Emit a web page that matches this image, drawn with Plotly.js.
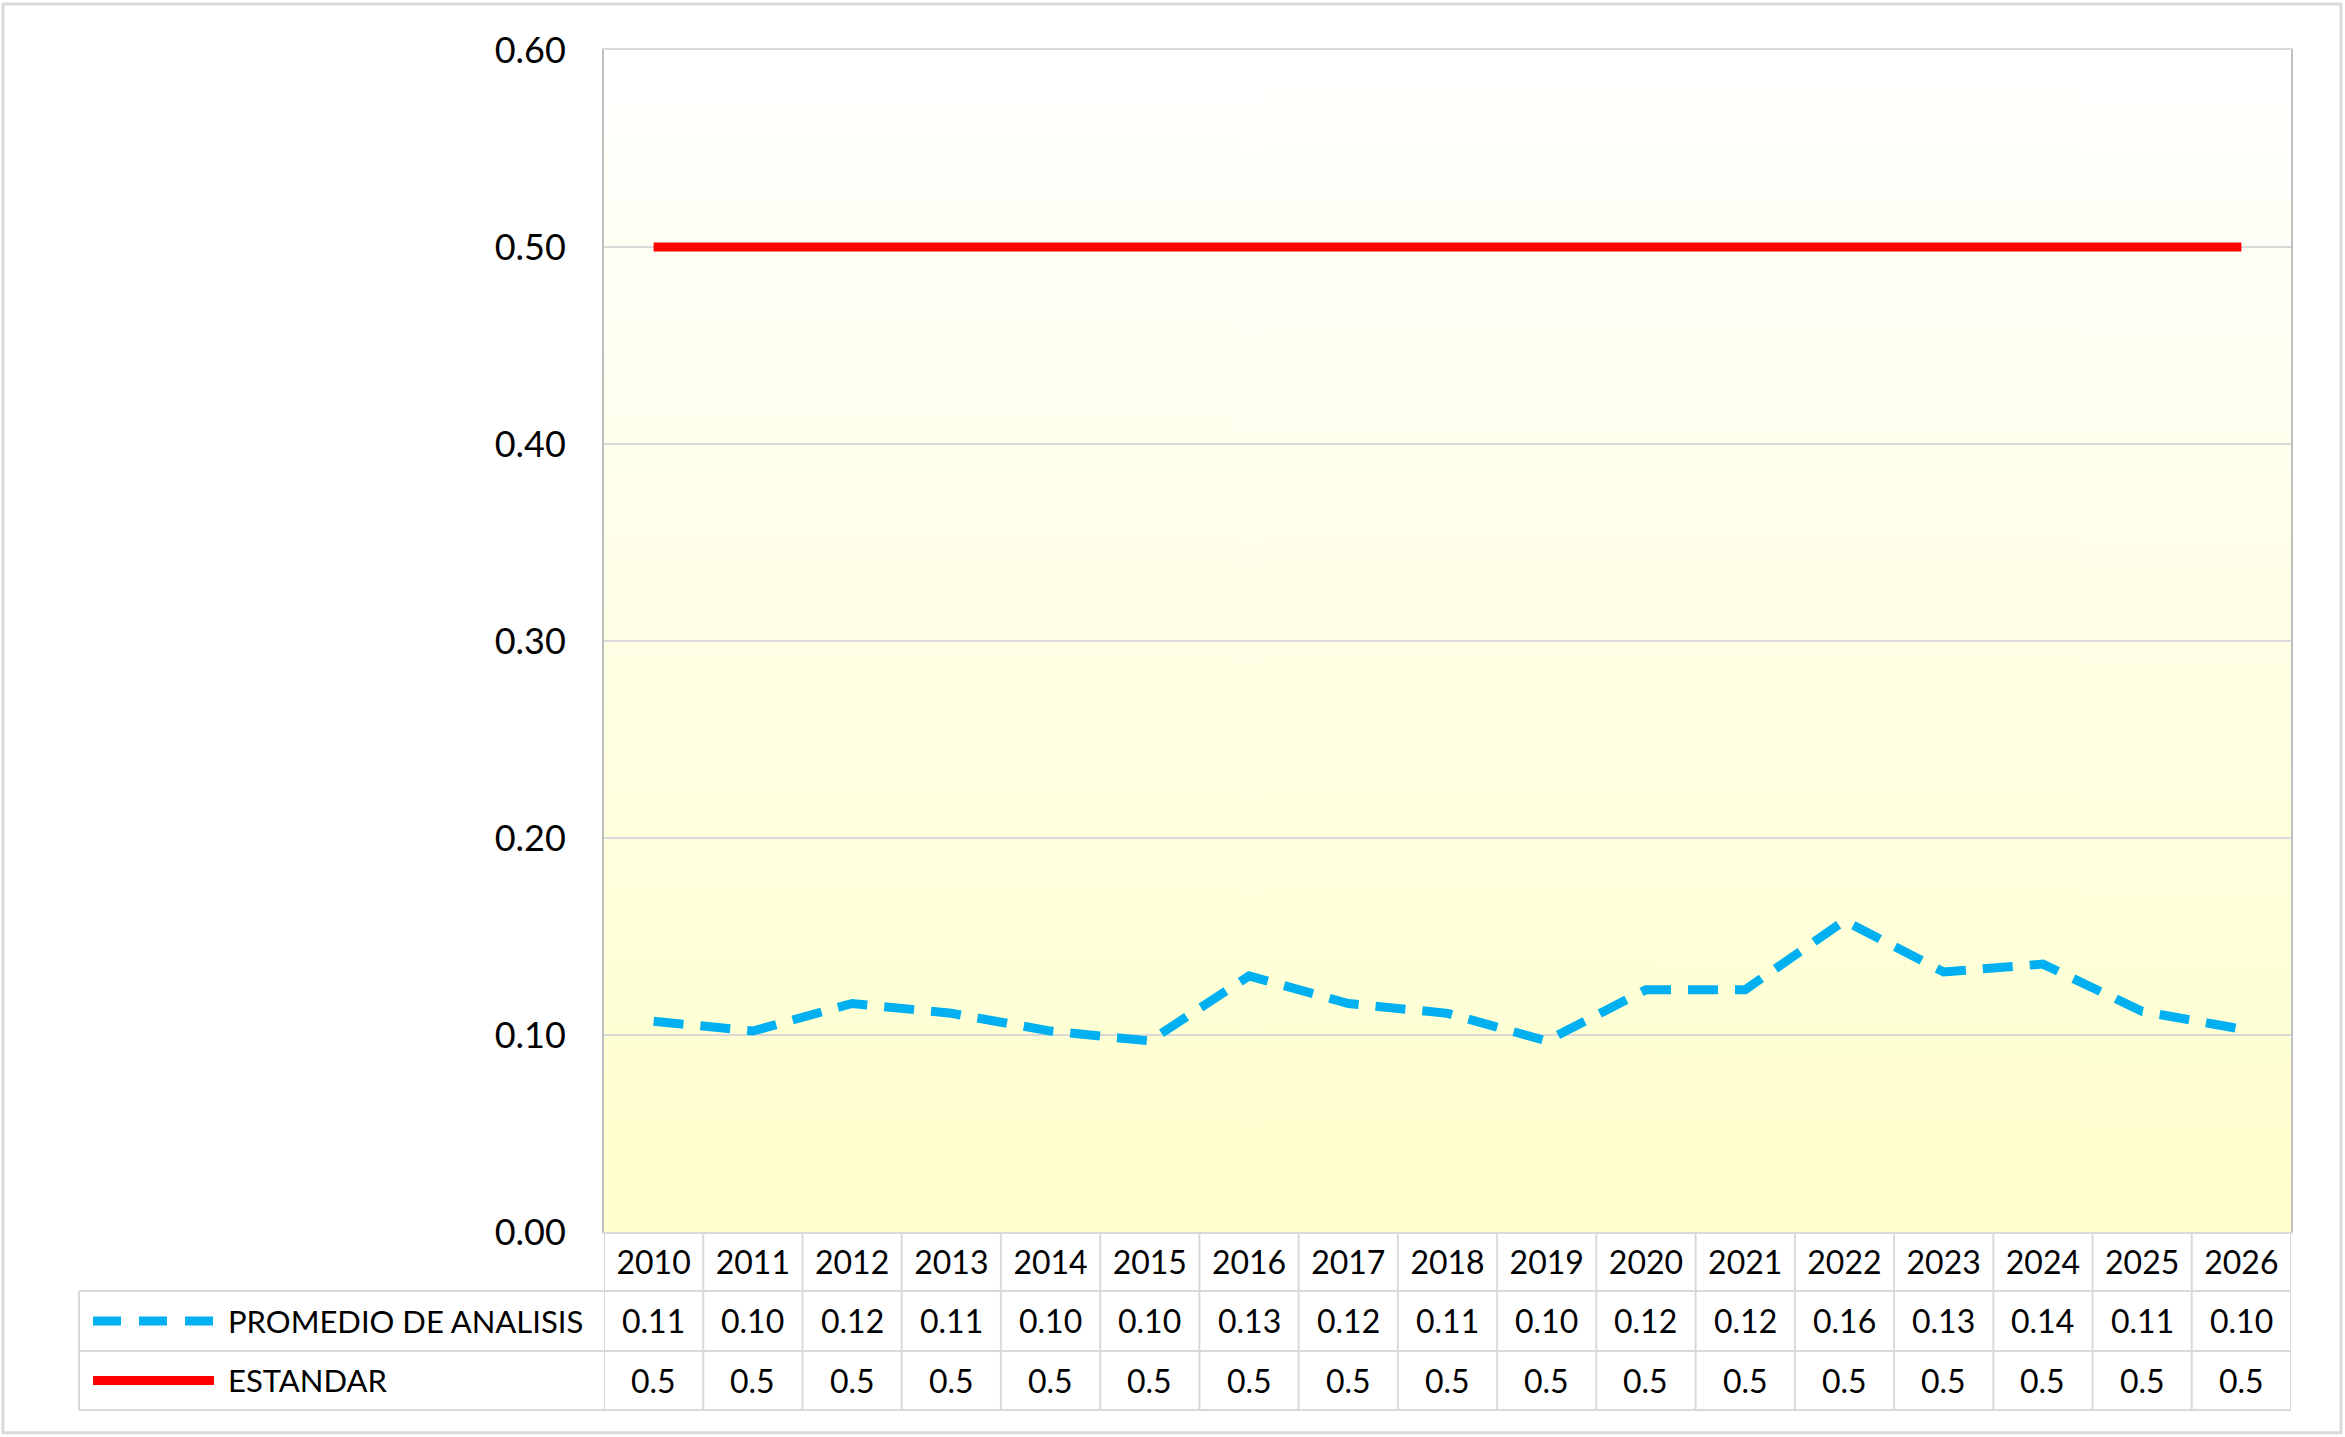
<!DOCTYPE html>
<html>
<head>
<meta charset="utf-8">
<script src="https://cdn.plot.ly/plotly-3.0.1.min.js"></script>
<style>
  body { margin: 0; background: #fff; }
  #graphDiv { width: 2345px; height: 1437px; }
</style>
</head>
<body>
<div id="graphDiv"></div>
<script>
// data
var years = ['2010','2011','2012','2013','2014','2015','2016','2017','2018',
             '2019','2020','2021','2022','2023','2024','2025','2026'];
var promedio = [0.107,0.102,0.116,0.111,0.102,0.097,0.130,0.116,0.111,
                0.097,0.123,0.123,0.158,0.132,0.136,0.112,0.103];
var estandar = [0.5,0.5,0.5,0.5,0.5,0.5,0.5,0.5,0.5,
                0.5,0.5,0.5,0.5,0.5,0.5,0.5,0.5];
var seriesNames = ['PROMEDIO DE ANALISIS', 'ESTANDAR'];
var yTicks = [0, 0.1, 0.2, 0.3, 0.4, 0.5, 0.6];

var FONT = 'Lato, "Open Sans", sans-serif';
var GRID = '#D9D9D9';
var BLUE = '#00B0F0';
var RED = '#FF0000';

// plot area gradient (white -> light yellow), made on a canvas
function gradientImage() {
  var c = document.createElement('canvas');
  c.width = 4; c.height = 256;
  var g = c.getContext('2d');
  var grd = g.createLinearGradient(0, 0, 0, 256);
  grd.addColorStop(0, '#FFFFFF');
  grd.addColorStop(1, '#FFFFCC');
  g.fillStyle = grd;
  g.fillRect(0, 0, 4, 256);
  return c.toDataURL();
}

function initGraph()
{
  var trace1 = {
    x: years,
    y: promedio,
    mode: 'lines',
    name: seriesNames[0],
    line: {color: BLUE, width: 9, dash: '30px,17px'},
    type: 'scatter'
  };
  var trace2 = {
    x: years,
    y: estandar,
    mode: 'lines',
    name: seriesNames[1],
    line: {color: RED, width: 9},
    type: 'scatter'
  };

  // data table rows under the axis (paper coords)
  var rowTop = 0, row1 = -0.0499, row2 = -0.1006, row3 = -0.1505;
  var tableLeft = -0.3112;
  var shapes = [];
  var annotations = [];

  // outer chart border
  shapes.push({type: 'rect', xref: 'paper', yref: 'paper',
    x0: -0.3563, x1: 1.0296, y0: -0.1699, y1: 1.0389,
    line: {color: GRID, width: 3}, layer: 'below'});

  // vertical cell lines
  for (var i = 0; i <= years.length; i++) {
    shapes.push({type: 'line', xref: 'x', yref: 'paper',
      x0: i - 0.5, x1: i - 0.5, y0: rowTop, y1: row3,
      line: {color: GRID, width: 2}});
  }
  shapes.push({type: 'line', xref: 'paper', yref: 'paper',
    x0: tableLeft, x1: tableLeft, y0: row1, y1: row3,
    line: {color: GRID, width: 2}});
  // horizontal cell lines
  [row1, row2, row3].forEach(function (yy) {
    shapes.push({type: 'line', xref: 'paper', yref: 'paper',
      x0: tableLeft, x1: 1, y0: yy, y1: yy,
      line: {color: GRID, width: 2}});
  });

  // legend keys in the table
  var rowMid = [(row1 + row2) / 2, (row2 + row3) / 2];
  shapes.push({type: 'line', xref: 'paper', yref: 'paper',
    x0: -0.3029, x1: -0.2312, y0: rowMid[0], y1: rowMid[0],
    line: {color: BLUE, width: 9, dash: '28px,18px'}});
  shapes.push({type: 'line', xref: 'paper', yref: 'paper',
    x0: -0.3029, x1: -0.2312, y0: rowMid[1], y1: rowMid[1],
    line: {color: RED, width: 9}});

  seriesNames.forEach(function (nm, r) {
    annotations.push({xref: 'paper', yref: 'paper', x: -0.2241, y: rowMid[r],
      xanchor: 'left', yanchor: 'middle', text: nm, showarrow: false,
      font: {family: FONT, size: 31, color: '#000'}});
  });

  years.forEach(function (yr, i) {
    annotations.push({xref: 'x', yref: 'paper', x: i, y: rowMid[0],
      xanchor: 'center', yanchor: 'middle', text: promedio[i].toFixed(2),
      showarrow: false, font: {family: FONT, size: 32, color: '#000'}});
    annotations.push({xref: 'x', yref: 'paper', x: i, y: rowMid[1],
      xanchor: 'center', yanchor: 'middle', text: String(estandar[i]),
      showarrow: false, font: {family: FONT, size: 32, color: '#000'}});
  });

  var data = [trace1, trace2];

  var layout = {
    width: 2345,
    height: 1437,
    margin: {l: 604, r: 54, t: 50, b: 205},
    paper_bgcolor: '#FFFFFF',
    plot_bgcolor: 'rgba(0,0,0,0)',
    showlegend: false,
    font: {family: FONT, size: 32, color: '#000'},
    xaxis: {
      type: 'category',
      range: [-0.5, years.length - 0.5],
      showgrid: false,
      zeroline: false,
      showline: true,
      linecolor: GRID,
      linewidth: 2,
      mirror: true,
      ticks: '',
      ticklabelstandoff: 2,
      tickfont: {family: FONT, size: 32, color: '#000'}
    },
    yaxis: {
      range: [0, 0.6],
      tickvals: yTicks,
      tickformat: '.2f',
      showgrid: true,
      gridcolor: GRID,
      gridwidth: 2,
      zeroline: false,
      showline: true,
      linecolor: '#BFBFBF',
      linewidth: 2,
      mirror: true,
      ticks: '',
      ticklabelstandoff: 29,
      tickfont: {family: FONT, size: 36, color: '#000'}
    },
    images: [{
      source: gradientImage(),
      xref: 'paper', yref: 'paper',
      x: 0, y: 1, sizex: 1, sizey: 1,
      sizing: 'stretch', layer: 'below',
      xanchor: 'left', yanchor: 'top'
    }],
    shapes: shapes,
    annotations: annotations
  };

  Plotly.newPlot('graphDiv', data, layout, {displayModeBar: false, staticPlot: true});
}
initGraph();
</script>
</body>
</html>
